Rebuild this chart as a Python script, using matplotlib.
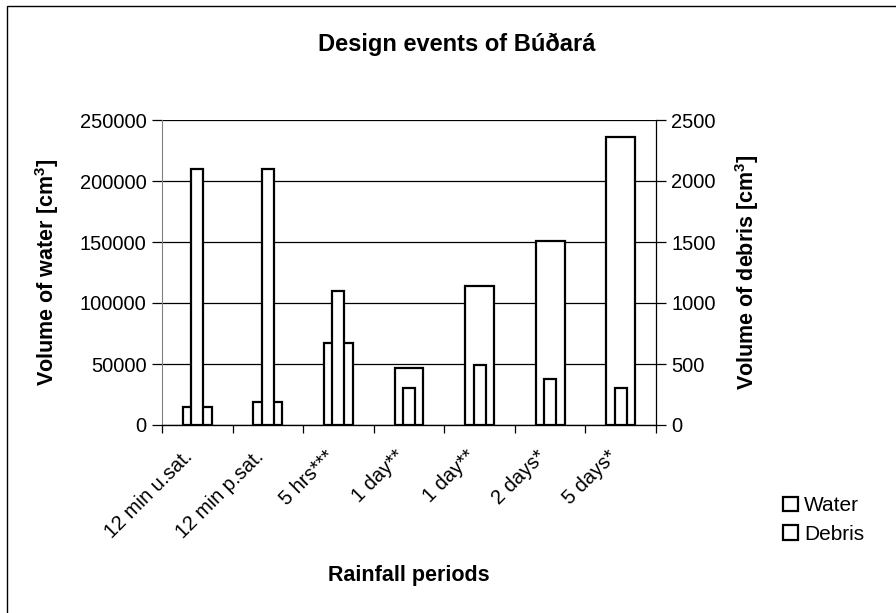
import matplotlib
matplotlib.use("Agg")
import matplotlib.pyplot as plt
import matplotlib.transforms as mtransforms
import numpy as np
from matplotlib.patches import Patch, Rectangle

plt.rcParams["font.family"] = ["Liberation Sans", "DejaVu Sans"]
plt.rcParams["mathtext.fontset"] = "custom"
plt.rcParams["mathtext.rm"] = "Liberation Sans"
plt.rcParams["mathtext.bf"] = "Liberation Sans:bold"

categories = ["12 min u.sat.", "12 min p.sat.", "5 hrs***", "1 day**",
              "1 day**", "2 days*", "5 days*"]
water = [15000, 19000, 67000, 47000, 114000, 151000, 236000]
debris = [2100, 2100, 1100, 300, 490, 380, 300]

W, H = 896, 613
fig = plt.figure(figsize=(W / 100, H / 100), dpi=100)
ax = fig.add_axes([162 / W, 1 - 425 / H, (656 - 162) / W, (425 - 120) / H])
ax2 = ax.twinx()

x = np.arange(len(categories))

# water: wide bars on the left axis
ax.bar(x, water, width=0.41, color="white", edgecolor="black",
       linewidth=1.6, zorder=2)
ax.set_ylim(0, 250000)
ax.set_yticks(np.arange(0, 250001, 50000))
ax.yaxis.grid(True, color="black", linewidth=0.9)
ax.set_axisbelow(True)

# debris: narrow bars on the right axis, drawn on top
ax2.bar(x, debris, width=0.17, color="white", edgecolor="black",
        linewidth=1.6, zorder=2)
ax2.set_ylim(0, 2500)
ax2.set_yticks(np.arange(0, 2501, 500))

# category ticks sit between the groups, labels are placed as rotated text
ax.set_xlim(-0.5, len(categories) - 0.5)
ax.set_xticks(np.arange(-0.5, len(categories), 1.0))
ax.set_xticklabels([])
ax.tick_params(axis="x", length=6, direction="out", width=0.9)
ax.tick_params(axis="y", length=7, direction="out", width=0.9, labelsize=14.5, pad=4)
ax2.tick_params(axis="y", length=7, direction="out", width=0.9, labelsize=14.5, pad=4)

base = mtransforms.blended_transform_factory(ax.transData, ax.transAxes)
offset = mtransforms.ScaledTranslation(-14 / 100, -22 / 100, fig.dpi_scale_trans)
for xi, name in zip(x, categories):
    ax.text(xi, 0, name, transform=base + offset, rotation=45, ha="right",
            va="top", rotation_mode="anchor", fontsize=14.5, clip_on=False)

for a in (ax, ax2):
    a.spines["top"].set_visible(False)
ax.spines["left"].set_color("#808080")
ax2.spines["left"].set_visible(False)
ax.spines["right"].set_visible(False)
ax2.spines["right"].set_linewidth(0.9)
ax.spines["bottom"].set_linewidth(0.9)

fig.text(457 / W, 1 - 44 / H, "Design events of Búðará", ha="center",
         va="center", fontsize=17, fontweight="bold")
fig.text(47 / W, 1 - 272 / H, "Volume of water [cm$^{\\mathbf{3}}$]", ha="center",
         va="center", rotation=90, fontsize=15.5, fontweight="bold")
fig.text(747 / W, 1 - 272 / H, "Volume of debris [cm$^{\\mathbf{3}}$]", ha="center",
         va="center", rotation=90, fontsize=15.5, fontweight="bold")
fig.text(409 / W, 1 - 576 / H, "Rainfall periods", ha="center",
         va="center", fontsize=15.5, fontweight="bold")

handles = [Patch(facecolor="white", edgecolor="black", linewidth=1.6, label="Water"),
           Patch(facecolor="white", edgecolor="black", linewidth=1.6, label="Debris")]
fig.legend(handles=handles, loc="upper left", bbox_to_anchor=(773 / W, 1 - 486 / H),
           frameon=False, fontsize=15, handlelength=0.7, handleheight=0.7,
           handletextpad=0.3, labelspacing=0.45, borderpad=0)

fig.add_artist(Rectangle((7 / W, -0.1), 1.0, 1 - 6 / H + 0.1,
                         transform=fig.transFigure, fill=False,
                         edgecolor="black", linewidth=1.0))

fig.savefig("out.png", dpi=100)
